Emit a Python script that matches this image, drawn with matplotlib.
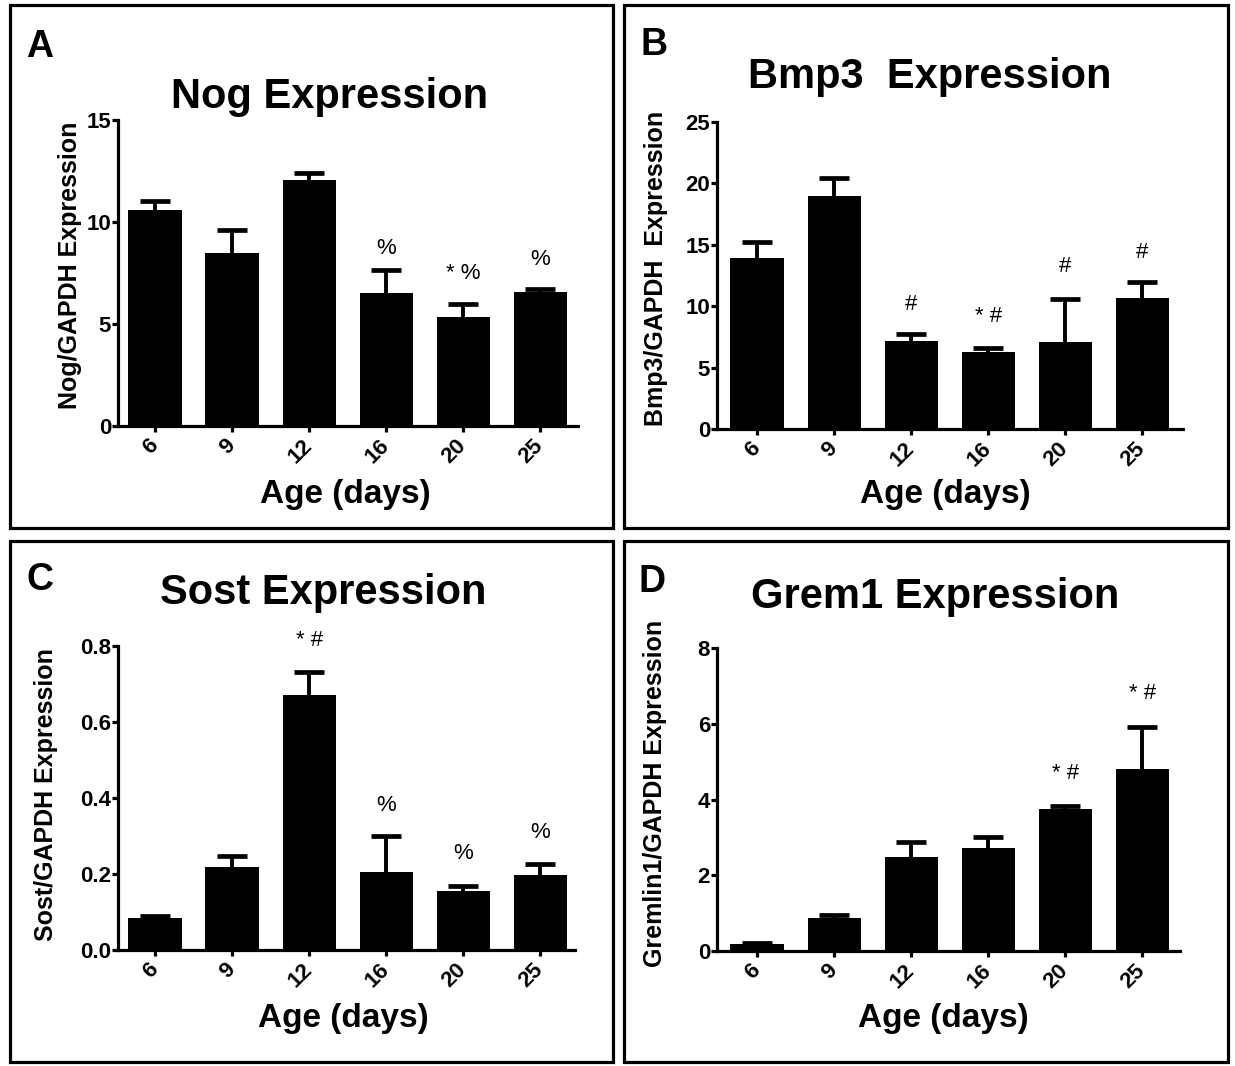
import matplotlib
matplotlib.use("Agg")
import matplotlib.pyplot as plt
from matplotlib.patches import Rectangle
from matplotlib import font_manager

names = {f.name for f in font_manager.fontManager.ttflist}
FAM = ['Liberation Sans Narrow'] if 'Liberation Sans Narrow' in names else ['Liberation Sans']
plt.rcParams['font.family'] = FAM + ['DejaVu Sans']

ages = ['6', '9', '12', '16', '20', '25']

nog_mean = [10.58, 8.47, 12.04, 6.53, 5.32, 6.59]
nog_err = [0.47, 1.15, 0.34, 1.11, 0.64, 0.14]
nog_marks = ['', '', '', '%', '* %', '%']
nog_mark_y = [0, 0, 0, 8.72, 7.47, 8.14]

bmp3_mean = [13.9, 19.0, 7.2, 6.3, 7.05, 10.7]
bmp3_err = [1.3, 1.4, 0.55, 0.3, 3.55, 1.3]
bmp3_marks = ['', '', '#', '* #', '#', '#']
bmp3_mark_y = [0, 0, 10.1, 9.15, 13.2, 14.4]

sost_mean = [0.084, 0.218, 0.671, 0.206, 0.156, 0.198]
sost_err = [0.006, 0.030, 0.061, 0.093, 0.013, 0.029]
sost_marks = ['', '', '* #', '%', '%', '%']
sost_mark_y = [0, 0, 0.815, 0.38, 0.255, 0.308]

grem_mean = [0.18, 0.87, 2.48, 2.71, 3.75, 4.81]
grem_err = [0.04, 0.07, 0.41, 0.30, 0.08, 1.11]
grem_marks = ['', '', '', '', '* #', '* #']
grem_mark_y = [0, 0, 0, 0, 4.68, 6.81]

W, H = 1235, 1066
fig = plt.figure(figsize=(W / 100, H / 100), dpi=100)

def fx(x):
    return x / W

def fy(y):
    return 1 - y / H

panels = [
    dict(letter='A', box=(10, 5, 613, 528), let=(40, 47), title='Nog Expression', tpos=(330, 97),
         ylabel='Nog/GAPDH Expression', ylpos=(70, 265), ax=(118, 578, 426, 120), ylim=(0, 15),
         yticks=[0, 5, 10, 15], yfmt='{:g}', xlim=(-0.48, 5.49), mean=nog_mean, err=nog_err,
         marks=nog_marks, mark_y=nog_mark_y, xl=(345, 495)),
    dict(letter='B', box=(624, 5, 1228, 528), let=(654, 45), title='Bmp3  Expression', tpos=(930, 77),
         ylabel='Bmp3/GAPDH  Expression', ylpos=(656, 268), ax=(717, 1183, 429, 122), ylim=(0, 25),
         yticks=[0, 5, 10, 15, 20, 25], yfmt='{:g}', xlim=(-0.52, 5.53), mean=bmp3_mean, err=bmp3_err,
         marks=bmp3_marks, mark_y=bmp3_mark_y, xl=(945, 495)),
    dict(letter='C', box=(10, 541, 613, 1062), let=(40, 580), title='Sost Expression', tpos=(323, 593),
         ylabel='Sost/GAPDH Expression', ylpos=(46, 795), ax=(118, 575, 950, 646), ylim=(0, 0.8),
         yticks=[0, 0.2, 0.4, 0.6, 0.8], yfmt='{:.1f}', xlim=(-0.48, 5.45), mean=sost_mean, err=sost_err,
         marks=sost_marks, mark_y=sost_mark_y, xl=(343, 1018)),
    dict(letter='D', box=(624, 541, 1228, 1062), let=(652, 582), title='Grem1 Expression', tpos=(935, 597),
         ylabel='Gremlin1/GAPDH Expression', ylpos=(655, 793), ax=(717, 1180, 951, 648), ylim=(0, 8),
         yticks=[0, 2, 4, 6, 8], yfmt='{:g}', xlim=(-0.52, 5.49), mean=grem_mean, err=grem_err,
         marks=grem_marks, mark_y=grem_mark_y, xl=(943, 1018)),
]

for p in panels:
    x0, y0, x1, y1 = p['box']
    fig.patches.append(Rectangle((fx(x0), fy(y1)), fx(x1 - x0), (y1 - y0) / H,
                                 transform=fig.transFigure, fill=False, lw=2.3, ec='black'))
    fig.text(fx(p['let'][0]), fy(p['let'][1]), p['letter'], ha='center', va='center',
             fontsize=27, fontweight='bold')
    fig.text(fx(p['tpos'][0]), fy(p['tpos'][1]), p['title'], ha='center', va='center',
             fontsize=30, fontweight='bold')
    fig.text(fx(p['ylpos'][0]), fy(p['ylpos'][1]), p['ylabel'], ha='center', va='center',
             rotation=90, fontsize=18, fontweight='bold')
    fig.text(fx(p['xl'][0]), fy(p['xl'][1]), 'Age (days)', ha='center', va='center',
             fontsize=24, fontweight='bold')

    l, r, b, t = p['ax']
    ax = fig.add_axes([fx(l), fy(b), (r - l) / W, (b - t) / H])
    xs = list(range(len(ages)))
    ax.bar(xs, p['mean'], width=0.69, color='black', edgecolor='black', lw=0, zorder=2)
    lowers = [0] * len(ages)
    eb = ax.errorbar(xs, p['mean'], yerr=[lowers, p['err']], fmt='none', ecolor='black',
                     elinewidth=2.8, capsize=11, capthick=3.4, zorder=1)
    caplines = eb[1]
    if len(caplines) == 2:
        caplines[0].set_visible(False)
    for xi, m, yy in zip(xs, p['marks'], p['mark_y']):
        if m:
            ax.text(xi, yy, m, ha='center', va='center', fontsize=16, clip_on=False)
    ax.set_xlim(*p['xlim'])
    ax.set_ylim(*p['ylim'])
    ax.set_yticks(p['yticks'])
    ax.set_yticklabels([p['yfmt'].format(v) for v in p['yticks']], fontsize=16, fontweight='bold')
    ax.set_xticks(xs)
    ax.set_xticklabels(ages, fontsize=16, fontweight='bold', rotation=45,
                       ha='right', va='center', rotation_mode='anchor')
    for s in ['top', 'right']:
        ax.spines[s].set_visible(False)
    for s in ['left', 'bottom']:
        ax.spines[s].set_linewidth(2.3)
    ax.tick_params(axis='both', direction='out', length=4, width=2.3, pad=1)
    ax.tick_params(axis='x', pad=8)
    ax.set_facecolor('none')

fig.savefig('out.png', dpi=100)
